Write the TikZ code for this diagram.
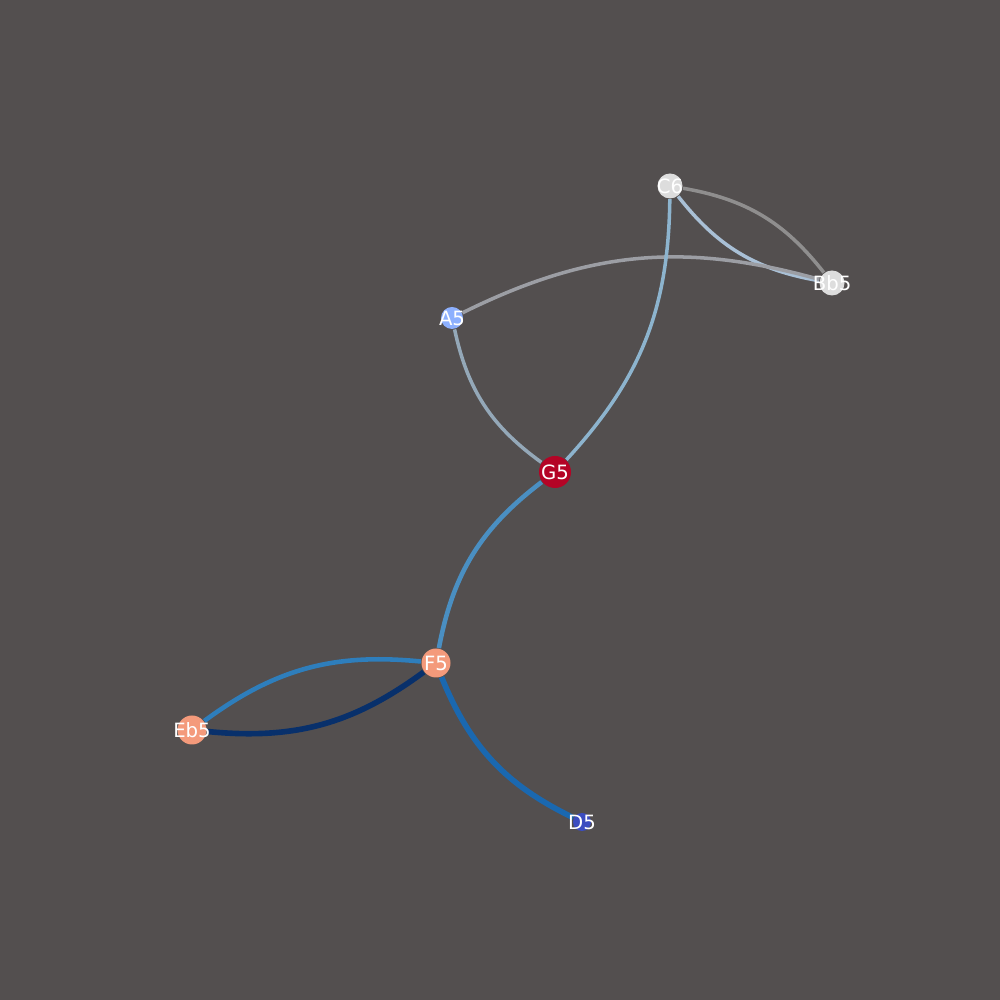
\documentclass[tikz,border=0pt]{standalone}
\usepackage{fontspec}
\setmainfont{DejaVu Sans}
\usetikzlibrary{positioning}

\definecolor{bgcol}{HTML}{534F4F}
\definecolor{nodegray}{HTML}{DDDDDD}
\definecolor{nodeblue}{HTML}{8DB0FE}
\definecolor{nodered}{HTML}{B40426}
\definecolor{nodesalmon}{HTML}{F49A7B}
\definecolor{nodedeep}{HTML}{3B4CC0}

\pgfdeclarelayer{edgelayer}
\pgfsetlayers{edgelayer,main}

\begin{document}
\begin{tikzpicture}[
    note/.style={circle, inner sep=0pt},
    lbl/.style={text=white, font=\fontsize{5.6}{6}\selectfont, inner sep=0pt},
    link/.style={line width=1.0pt, bend right=21},
  ]
  \useasboundingbox (0,0) rectangle (10,10);

  % notes
  \node[note, fill=nodegray, minimum size=0.25cm] (c6) at (6.70,8.14) {};
  \node[note, fill=nodegray, minimum size=0.25cm] (bb5) at (8.32,7.17) {};
  \node[note, fill=nodeblue, minimum size=0.22cm] (a5) at (4.52,6.82) {};
  \node[note, fill=nodered, minimum size=0.32cm] (g5) at (5.55,5.28) {};
  \node[note, fill=nodesalmon, minimum size=0.29cm] (f5) at (4.36,3.37) {};
  \node[note, fill=nodesalmon, minimum size=0.29cm] (eb5) at (1.92,2.70) {};
  \node[note, fill=nodedeep, minimum size=0.18cm] (d5) at (5.82,1.78) {};

  % transitions
  \begin{pgfonlayer}{edgelayer}
    \fill[bgcol] (0,0) rectangle (10,10);
    \draw[link, color={rgb,255:red,143;green,142;blue,142}] (bb5) to (c6);
    \draw[link, color={rgb,255:red,169;green,192;blue,214}] (c6) to (bb5);
    \draw[link, color={rgb,255:red,156;green,158;blue,164}] (bb5) to (a5);
    \draw[link, color={rgb,255:red,148;green,168;blue,184}] (a5) to (g5);
    \draw[link, color={rgb,255:red,141;green,180;blue,206}] (g5) to (c6);
    \draw[link, line width=1.3pt, color={rgb,255:red,74;green,143;blue,194}] (g5) to (f5);
    \draw[link, line width=1.3pt, color={rgb,255:red,46;green,126;blue,188}] (f5) to (eb5);
    \draw[link, line width=1.6pt, color={rgb,255:red,8;green,48;blue,107}] (eb5) to (f5);
    \draw[link, line width=1.6pt, color={rgb,255:red,26;green,104;blue,176}] (f5) to (d5);
  \end{pgfonlayer}

  % names
  \node[lbl] at (c6) {C6};
  \node[lbl] at (bb5) {Bb5};
  \node[lbl] at (a5) {A5};
  \node[lbl] at (g5) {G5};
  \node[lbl] at (f5) {F5};
  \node[lbl] at (eb5) {Eb5};
  \node[lbl] at (d5) {D5};
\end{tikzpicture}
\end{document}
